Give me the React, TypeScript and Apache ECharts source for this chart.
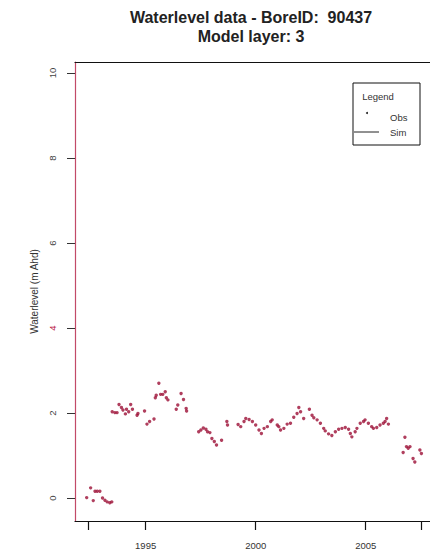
import React, { useEffect, useRef } from "react";
import * as echarts from "echarts";

const titleLines = ["Waterlevel data - BoreID:  90437", "Model layer: 3"];
const yAxisTitle = "Waterlevel (m Ahd)";
const legendTitle = "Legend";
const legendItems = ["Obs", "Sim"];

const obsYears = [
  1992.32, 1992.5, 1992.62, 1992.7, 1992.8, 1992.92, 1993.04, 1993.15, 1993.25, 1993.37, 1993.46,
  1993.48, 1993.6, 1993.7, 1993.79, 1993.9, 1993.97, 1994.08, 1994.13, 1994.23, 1994.32, 1994.4,
  1994.61, 1994.65, 1994.95, 1995.06, 1995.18, 1995.38, 1995.44, 1995.48, 1995.6, 1995.68, 1995.78,
  1995.89, 1995.94, 1996.01, 1996.39, 1996.46, 1996.61, 1996.72, 1996.84, 1996.86, 1997.41, 1997.51,
  1997.62, 1997.74, 1997.81, 1997.92, 1998.01, 1998.12, 1998.22, 1998.45, 1998.69, 1998.72, 1999.2,
  1999.32, 1999.47, 1999.55, 1999.7, 1999.85, 2000.0, 2000.15, 2000.26, 2000.38, 2000.53, 2000.68,
  2000.75, 2000.98, 2001.05, 2001.13, 2001.28, 2001.43, 2001.58, 2001.73, 2001.88, 2001.96, 2002.04,
  2002.18, 2002.44, 2002.56, 2002.64, 2002.79, 2002.94, 2003.09, 2003.16, 2003.31, 2003.46, 2003.62,
  2003.77, 2003.92, 2004.07, 2004.22, 2004.3, 2004.37, 2004.52, 2004.6, 2004.75, 2004.9, 2004.97,
  2005.12, 2005.27, 2005.35, 2005.5, 2005.65, 2005.8, 2005.88, 2005.95, 2006.03, 2006.7, 2006.78,
  2006.85, 2006.93, 2007.01, 2007.15, 2007.23, 2007.46, 2007.53,
];
const obsLevels = [
  0.01, 0.24, -0.06, 0.16, 0.16, 0.16, 0.0, -0.05, -0.09, -0.11, -0.09,
  2.03, 2.01, 2.01, 2.2, 2.13, 2.07, 1.98, 2.09, 2.03, 2.2, 2.09,
  1.95, 1.99, 2.05, 1.74, 1.8, 1.86, 2.36, 2.42, 2.7, 2.44, 2.44,
  2.5, 2.36, 2.31, 2.09, 2.19, 2.46, 2.32, 2.11, 2.05, 1.56, 1.6,
  1.65, 1.62, 1.56, 1.54, 1.4, 1.33, 1.25, 1.36, 1.8, 1.72, 1.73,
  1.68, 1.8, 1.87, 1.85, 1.8, 1.72, 1.6, 1.52, 1.64, 1.68, 1.8,
  1.84, 1.72, 1.68, 1.6, 1.64, 1.74, 1.76, 1.9, 1.99, 2.13, 2.03,
  1.87, 2.09, 1.95, 1.89, 1.84, 1.76, 1.64, 1.58, 1.51, 1.47, 1.56,
  1.62, 1.64, 1.66, 1.62, 1.52, 1.44, 1.56, 1.64, 1.76, 1.8, 1.84,
  1.76, 1.68, 1.64, 1.66, 1.72, 1.76, 1.8, 1.87, 1.74, 1.07, 1.43,
  1.21, 1.17, 1.21, 0.93, 0.85, 1.13, 1.05,
];

const xTickValues = [1992.38, 1995, 2000, 2005, 2007.53];
const xLabelValues = [1995, 2000, 2005];
const yTickValues = [0, 2, 4, 6, 8, 10];

const X_MIN = 1991.79;
const X_MAX = 2007.92;
const Y_MIN = -0.54;
const Y_MAX = 10.26;

export default function App() {
  const ref = useRef<HTMLDivElement>(null);

  useEffect(() => {
    if (!ref.current) return;
    const chart = echarts.init(ref.current, null, { renderer: "svg" });
    const font = "Liberation Sans, Arial, sans-serif";
    const obsData = obsYears.map((y, i) => [y, obsLevels[i]]);

    chart.setOption({
      animation: false,
      backgroundColor: "#ffffff",
      grid: { left: 75, top: 62, width: 357, height: 459 },
      xAxis: [
        {
          type: "value",
          min: X_MIN,
          max: X_MAX,
          position: "bottom",
          splitLine: { show: false },
          axisLine: { show: true, onZero: false, lineStyle: { color: "#111", width: 1.2 } },
          axisTick: {
            show: true,
            length: 9,
            customValues: xTickValues,
            lineStyle: { color: "#111", width: 1.2 },
          },
          axisLabel: {
            customValues: xLabelValues,
            margin: 19,
            fontSize: 9.5,
            color: "#333",
            fontFamily: font,
            formatter: (v: number) => String(Math.round(v)),
          },
        },
        {
          type: "value",
          min: X_MIN,
          max: X_MAX,
          position: "top",
          splitLine: { show: false },
          axisLine: { show: true, onZero: false, lineStyle: { color: "#111", width: 1.2 } },
          axisTick: { show: false },
          axisLabel: { show: false },
        },
      ],
      yAxis: {
        type: "value",
        min: Y_MIN,
        max: Y_MAX,
        splitLine: { show: false },
        axisLine: { show: true, onZero: false, lineStyle: { color: "#c24a68", width: 1.2 } },
        axisTick: {
          show: true,
          length: 8,
          customValues: yTickValues,
          lineStyle: { color: "#333", width: 1 },
        },
        axisLabel: {
          customValues: yTickValues,
          rotate: 90,
          margin: 18,
          fontSize: 9.5,
          fontFamily: font,
          color: (v: any) => (Number(v) === 4 ? "#b8143f" : "#444"),
        },
        name: yAxisTitle,
        nameLocation: "middle",
        nameRotate: 90,
        nameGap: 34,
        nameTextStyle: { fontSize: 10, color: "#333", fontFamily: font },
      },
      graphic: [
        {
          type: "text",
          x: 251,
          y: 8,
          style: {
            text: titleLines.join("\n"),
            textAlign: "center",
            fontSize: 16,
            fontWeight: "bold",
            lineHeight: 19,
            fill: "#222",
            fontFamily: font,
          },
        },
        {
          type: "rect",
          shape: { x: 353, y: 83, width: 67, height: 62 },
          style: { fill: "#fff", stroke: "#111", lineWidth: 1 },
        },
        {
          type: "text",
          x: 378,
          y: 96,
          style: {
            text: legendTitle,
            textAlign: "center",
            textVerticalAlign: "middle",
            fontSize: 9.5,
            fill: "#333",
            fontFamily: font,
          },
        },
        {
          type: "circle",
          shape: { cx: 367, cy: 113, r: 1 },
          style: { fill: "#222" },
        },
        {
          type: "text",
          x: 390,
          y: 117,
          style: {
            text: legendItems[0],
            textAlign: "left",
            textVerticalAlign: "middle",
            fontSize: 9.5,
            fill: "#333",
            fontFamily: font,
          },
        },
        {
          type: "line",
          shape: { x1: 354, y1: 132, x2: 379, y2: 132 },
          style: { stroke: "#222", lineWidth: 1 },
        },
        {
          type: "text",
          x: 390,
          y: 132,
          style: {
            text: legendItems[1],
            textAlign: "left",
            textVerticalAlign: "middle",
            fontSize: 9.5,
            fill: "#333",
            fontFamily: font,
          },
        },
      ],
      series: [
        {
          name: "Obs",
          type: "scatter",
          xAxisIndex: 0,
          data: obsData,
          symbol: "circle",
          symbolSize: 3.4,
          itemStyle: { color: "#9c0f36" },
          clip: false,
        },
      ],
    });

    return () => chart.dispose();
  }, []);

  return (
    <div
      ref={ref}
      style={{ position: "absolute", left: 0, top: 0, width: 430, height: 554, overflow: "hidden" }}
    />
  );
}
